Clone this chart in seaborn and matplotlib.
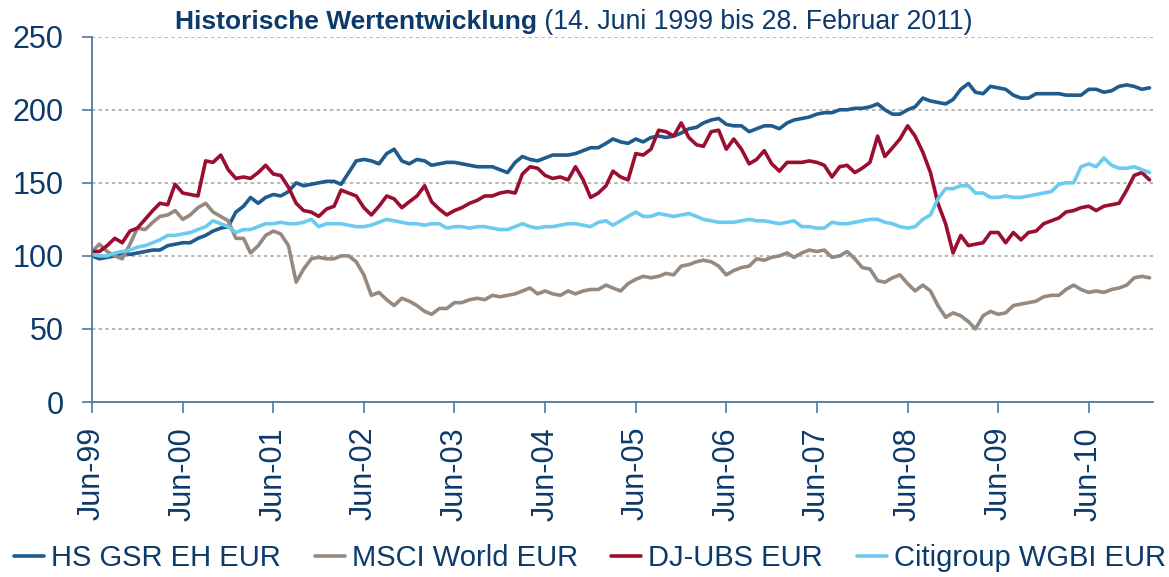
import numpy as np
import pandas as pd
import matplotlib
matplotlib.use("Agg")
import matplotlib.pyplot as plt
import matplotlib.dates as mdates
from matplotlib.lines import Line2D
import seaborn as sns

# ---------------- data (monthly readings, Jun 1999 - Feb 2011) ----------------
start_date = "1999-06-14"
end_date = "2011-02-28"

hs_gsr = [100, 98, 99, 100, 102, 101, 102, 103, 104, 104, 107, 108, 109, 109, 112, 114, 117, 119, 120, 130, 134, 140, 136, 140, 142,
          141, 144, 150, 148, 149, 150, 151, 151, 149, 157, 165, 166, 165, 163, 170, 173, 165, 163, 166, 165, 162, 163, 164, 164,
          163, 162, 161, 161, 161, 159, 157, 164, 168, 166, 165, 167, 169, 169, 169, 170, 172, 174, 174, 177, 180, 178, 177, 180,
          178, 181, 182, 181, 182, 184, 187, 188, 191, 193, 194, 190, 189, 189, 185, 187, 189, 189, 187, 191, 193, 194, 195, 197,
          198, 198, 200, 200, 201, 201, 202, 204, 200, 197, 197, 200, 202, 208, 206, 205, 204, 207, 214, 218, 212, 211, 216, 215,
          214, 210, 208, 208, 211, 211, 211, 211, 210, 210, 210, 214, 214, 212, 213, 216, 217, 216, 214, 215]

msci_world = [103, 108, 103, 100, 98, 108, 119, 118, 123, 127, 128, 131, 125, 128, 133, 136, 130, 127, 124, 112, 112, 102, 107, 114, 117,
              115, 107, 82, 91, 98, 99, 98, 98, 100, 100, 96, 87, 73, 75, 70, 66, 71, 69, 66, 62, 60, 64, 64, 68,
              68, 70, 71, 70, 73, 72, 73, 74, 76, 78, 74, 76, 74, 73, 76, 74, 76, 77, 77, 80, 78, 76, 81, 84,
              86, 85, 86, 88, 87, 93, 94, 96, 97, 96, 93, 87, 90, 92, 93, 98, 97, 99, 100, 102, 99, 102, 104, 103,
              104, 99, 100, 103, 98, 92, 91, 83, 82, 85, 87, 81, 76, 80, 76, 66, 58, 61, 59, 55, 50, 59, 62, 60,
              61, 66, 67, 68, 69, 72, 73, 73, 77, 80, 77, 75, 76, 75, 77, 78, 80, 85, 86, 85]

dj_ubs = [103, 103, 107, 112, 109, 117, 119, 125, 131, 136, 135, 149, 143, 142, 141, 165, 164, 169, 159, 153, 154, 153, 157, 162, 156,
          155, 147, 136, 131, 130, 127, 132, 134, 145, 143, 141, 133, 128, 134, 141, 139, 133, 137, 141, 148, 137, 132, 128, 131,
          133, 136, 138, 141, 141, 143, 144, 143, 156, 161, 160, 155, 153, 154, 152, 161, 152, 140, 143, 148, 158, 154, 152, 170,
          169, 173, 186, 185, 182, 191, 181, 176, 175, 185, 186, 173, 180, 173, 163, 166, 172, 163, 158, 164, 164, 164, 165, 164,
          162, 154, 161, 162, 157, 160, 164, 182, 168, 174, 180, 189, 182, 171, 157, 136, 122, 102, 114, 107, 108, 109, 116, 116,
          109, 116, 111, 116, 117, 122, 124, 126, 130, 131, 133, 134, 131, 134, 135, 136, 145, 155, 157, 152]

citi_wgbi = [101, 100, 100, 102, 103, 104, 106, 107, 109, 111, 114, 114, 115, 116, 118, 120, 124, 122, 120, 116, 118, 118, 120, 122, 122,
             123, 122, 122, 123, 125, 120, 122, 122, 122, 121, 120, 120, 121, 123, 125, 124, 123, 122, 122, 121, 122, 122, 119, 120,
             120, 119, 120, 120, 119, 118, 118, 120, 122, 120, 119, 120, 120, 121, 122, 122, 121, 120, 123, 124, 121, 124, 127, 130,
             127, 127, 129, 128, 127, 128, 129, 127, 125, 124, 123, 123, 123, 124, 125, 124, 124, 123, 122, 123, 124, 120, 120, 119,
             119, 123, 122, 122, 123, 124, 125, 125, 123, 122, 120, 119, 120, 125, 128, 139, 146, 146, 148, 148, 143, 143, 140, 140,
             141, 140, 140, 141, 142, 143, 144, 149, 150, 150, 161, 163, 161, 167, 162, 160, 160, 161, 159, 157]

series_names = ["HS GSR EH EUR", "MSCI World EUR", "DJ-UBS EUR", "Citigroup WGBI EUR"]
series_values = [hs_gsr, msci_world, dj_ubs, citi_wgbi]
y_ticks = [0, 50, 100, 150, 200, 250]
tick_years = list(range(1999, 2011))
title_bold = "Historische Wertentwicklung"
title_rest = " (14. Juni 1999 bis 28. Februar 2011)"

# ---------------- styles ----------------
line_colors = ["#1F5B8C", "#968A80", "#9A0F30", "#6CCAEE"]
navy = "#0B3A6B"
spine_col = "#4F78A4"

sns.set_style("white")
plt.rcParams["font.family"] = ["Liberation Sans", "DejaVu Sans"]

frames = []
for name, vals in zip(series_names, series_values):
    d = pd.date_range(start_date, periods=len(vals), freq=pd.DateOffset(months=1))
    frames.append(pd.DataFrame({"date": d, "value": vals, "series": name}))
df = pd.concat(frames, ignore_index=True)

W, H = 1169, 577
fig = plt.figure(figsize=(W / 100, H / 100), dpi=100)
ax = fig.add_axes([92 / W, 1 - 402 / H, (1153 - 92) / W, (402 - 36.7) / H])

sns.lineplot(data=df, x="date", y="value", hue="series", hue_order=series_names,
             palette=dict(zip(series_names, line_colors)), linewidth=2.6,
             estimator=None, legend=False, ax=ax)

ax.set_xlim(pd.Timestamp(start_date), pd.Timestamp(end_date))
ax.set_ylim(0, 250)
ax.set_yticks(y_ticks)
ax.set_xticks([pd.Timestamp(f"{y}-06-14") for y in tick_years])
ax.xaxis.set_major_formatter(mdates.DateFormatter("%b-%y"))
ax.set_xlabel("")
ax.set_ylabel("")

ax.yaxis.grid(True, linestyle=(0, (1.7, 1.7)), color="#B5B5B5", linewidth=1.4)
ax.xaxis.grid(False)
ax.set_axisbelow(True)

for s in ["top", "right"]:
    ax.spines[s].set_visible(False)
for s in ["left", "bottom"]:
    ax.spines[s].set_color(spine_col)
    ax.spines[s].set_linewidth(1.3)

ax.tick_params(axis="y", direction="out", length=7.5, width=1.2, color=spine_col,
               labelcolor=navy, labelsize=22, pad=13, left=True)
ax.tick_params(axis="x", direction="out", length=8, width=1.2, color=spine_col,
               labelcolor=navy, labelsize=22, pad=10, rotation=90, bottom=True)

# title (bold part + regular part)
t1 = fig.text(175 / W, 1 - 29 / H, title_bold, fontsize=19, fontweight="bold",
              color=navy, ha="left", va="baseline")
fig.canvas.draw()
bb = t1.get_window_extent(renderer=fig.canvas.get_renderer())
fig.text(bb.x1 / W, 1 - 29 / H, title_rest, fontsize=19.2, color=navy,
         ha="left", va="baseline")

handles = [Line2D([0], [0], color=c, lw=2.6) for c in line_colors]
fig.legend(handles, series_names, loc="center", bbox_to_anchor=(590 / W, 1 - 558 / H),
           ncol=4, frameon=False, fontsize=21, handlelength=1.03, handletextpad=0.24,
           columnspacing=1.15, labelcolor=navy, borderaxespad=0, borderpad=0)

fig.savefig("out.png", dpi=100)
